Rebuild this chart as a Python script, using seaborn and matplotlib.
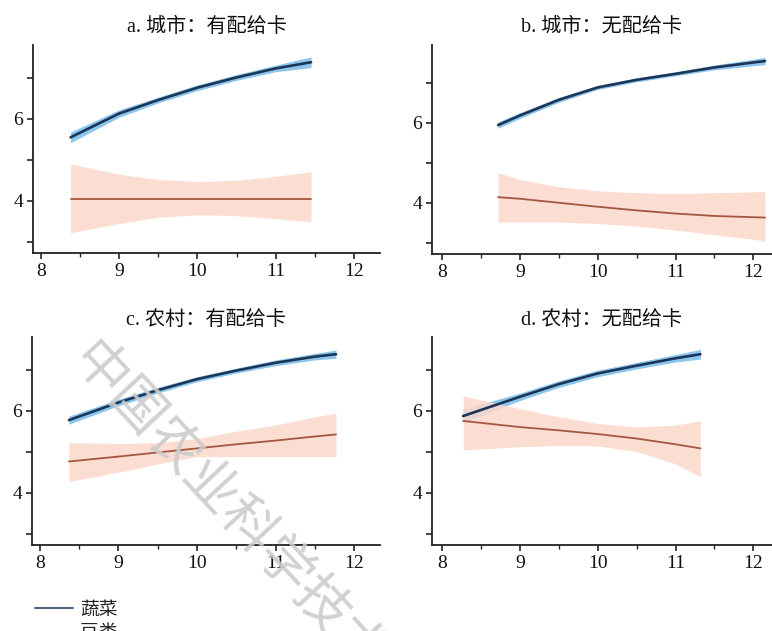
import numpy as np
import pandas as pd
import matplotlib
matplotlib.use("Agg")
import matplotlib.pyplot as plt
import seaborn as sns
from matplotlib.ticker import MultipleLocator
from matplotlib.lines import Line2D

sns.set_theme(style="ticks")
plt.rcParams['font.family'] = ['Liberation Serif', 'Noto Sans CJK SC', 'DejaVu Sans']

titles = ["a. 城市：有配给卡", "b. 城市：无配给卡", "c. 农村：有配给卡", "d. 农村：无配给卡"]
series_names = ["蔬菜", "豆类"]

# panel a
a_veg_x = [8.38, 9.0, 9.5, 10.0, 10.5, 11.0, 11.45]
a_veg_y = [5.55, 6.13, 6.46, 6.76, 7.01, 7.23, 7.38]
a_veg_lo = [5.42, 6.04, 6.39, 6.69, 6.94, 7.15, 7.25]
a_veg_hi = [5.68, 6.22, 6.53, 6.83, 7.08, 7.31, 7.51]
a_leg_x = [8.38, 9.0, 9.5, 10.0, 10.5, 11.0, 11.45]
a_leg_y = [4.05, 4.05, 4.05, 4.05, 4.05, 4.05, 4.05]
a_leg_lo = [3.22, 3.45, 3.60, 3.66, 3.64, 3.57, 3.49]
a_leg_hi = [4.90, 4.65, 4.52, 4.47, 4.50, 4.60, 4.71]

# panel b
b_veg_x = [8.72, 9.0, 9.5, 10.0, 10.5, 11.0, 11.5, 12.15]
b_veg_y = [5.94, 6.18, 6.57, 6.88, 7.07, 7.22, 7.38, 7.54]
b_veg_lo = [5.86, 6.11, 6.51, 6.83, 7.02, 7.17, 7.32, 7.45]
b_veg_hi = [6.02, 6.25, 6.63, 6.93, 7.12, 7.27, 7.44, 7.63]
b_leg_x = [8.72, 9.0, 9.5, 10.0, 10.5, 11.0, 11.5, 12.15]
b_leg_y = [4.14, 4.10, 4.00, 3.90, 3.81, 3.73, 3.67, 3.63]
b_leg_lo = [3.52, 3.52, 3.52, 3.48, 3.42, 3.32, 3.20, 3.05]
b_leg_hi = [4.75, 4.58, 4.40, 4.30, 4.25, 4.23, 4.25, 4.28]

# panel c
c_veg_x = [8.37, 9.0, 9.5, 10.0, 10.5, 11.0, 11.5, 11.77]
c_veg_y = [5.77, 6.20, 6.50, 6.77, 6.98, 7.17, 7.32, 7.38]
c_veg_lo = [5.67, 6.12, 6.43, 6.71, 6.92, 7.10, 7.24, 7.28]
c_veg_hi = [5.87, 6.28, 6.57, 6.83, 7.04, 7.24, 7.40, 7.48]
c_leg_x = [8.37, 9.0, 9.5, 10.0, 10.5, 11.0, 11.5, 11.77]
c_leg_y = [4.76, 4.88, 4.98, 5.08, 5.18, 5.27, 5.37, 5.42]
c_leg_lo = [4.27, 4.50, 4.70, 4.88, 4.88, 4.88, 4.88, 4.88]
c_leg_hi = [5.22, 5.20, 5.22, 5.32, 5.50, 5.65, 5.85, 5.94]

# panel d
d_veg_x = [8.27, 9.0, 9.5, 10.0, 10.5, 11.0, 11.32]
d_veg_y = [5.87, 6.34, 6.65, 6.91, 7.10, 7.28, 7.38]
d_veg_lo = [5.70, 6.25, 6.57, 6.83, 7.02, 7.19, 7.26]
d_veg_hi = [6.04, 6.43, 6.73, 6.99, 7.18, 7.37, 7.50]
d_leg_x = [8.27, 9.0, 9.5, 10.0, 10.5, 11.0, 11.32]
d_leg_y = [5.75, 5.60, 5.52, 5.43, 5.32, 5.18, 5.08]
d_leg_lo = [5.04, 5.12, 5.15, 5.14, 5.00, 4.70, 4.39]
d_leg_hi = [6.36, 6.05, 5.85, 5.69, 5.60, 5.65, 5.75]

panels = [
    (a_veg_x, a_veg_y, a_veg_lo, a_veg_hi, a_leg_x, a_leg_y, a_leg_lo, a_leg_hi),
    (b_veg_x, b_veg_y, b_veg_lo, b_veg_hi, b_leg_x, b_leg_y, b_leg_lo, b_leg_hi),
    (c_veg_x, c_veg_y, c_veg_lo, c_veg_hi, c_leg_x, c_leg_y, c_leg_lo, c_leg_hi),
    (d_veg_x, d_veg_y, d_veg_lo, d_veg_hi, d_leg_x, d_leg_y, d_leg_lo, d_leg_hi),
]

veg_line = "#1b3556"
veg_band = "#86c2ec"
leg_line = "#a4573f"
leg_band = "#fcd8cb"

W, H = 772, 631
fig = plt.figure(figsize=(W / 100, H / 100), dpi=100)

# (left, top, right, bottom) in pixels
boxes = [(33, 45, 380, 253), (432, 45, 772, 254), (32, 337, 380, 545), (432, 337, 772, 545)]
xlims = [(7.9, 12.33), (7.87, 12.24), (7.9, 12.33), (7.87, 12.24)]
ylims = [(2.73, 7.80), (2.72, 7.94), (2.72, 7.80), (2.72, 7.80)]

for i, (l, t, r, b) in enumerate(boxes):
    ax = fig.add_axes([l / W, 1 - b / H, (r - l) / W, (b - t) / H])
    vx, vy, vlo, vhi, lx, ly, llo, lhi = panels[i]
    ax.fill_between(vx, vlo, vhi, color=veg_band, alpha=0.95, lw=0, zorder=1)
    ax.fill_between(lx, llo, lhi, color=leg_band, alpha=0.85, lw=0, zorder=1)
    df = pd.concat([
        pd.DataFrame({"x": vx, "y": vy, "s": series_names[0]}),
        pd.DataFrame({"x": lx, "y": ly, "s": series_names[1]}),
    ])
    sns.lineplot(data=df, x="x", y="y", hue="s", palette=[veg_line, leg_line],
                 ax=ax, legend=False, zorder=3, sort=False, estimator=None)
    for line, lw in zip(ax.lines, [1.9, 1.3]):
        line.set_linewidth(lw)
    ax.set_xlim(*xlims[i])
    ax.set_ylim(*ylims[i])
    ax.set_xlabel("")
    ax.set_ylabel("")
    ax.set_xticks([8, 9, 10, 11, 12])
    ax.xaxis.set_minor_locator(MultipleLocator(0.5))
    ax.set_yticks([3, 4, 5, 6, 7])
    ax.set_yticklabels(["", "4", "", "6", ""])
    ax.tick_params(axis="both", which="major", direction="out", length=4, width=1.1,
                   labelsize=14, colors="#111111", pad=3)
    ax.tick_params(axis="x", which="minor", direction="out", length=3, width=1.0)
    for lab in ax.get_xticklabels() + ax.get_yticklabels():
        lab.set_family(['Liberation Serif'])
    for s in ["top", "right"]:
        ax.spines[s].set_visible(False)
    for s in ["left", "bottom"]:
        ax.spines[s].set_linewidth(1.3)
        ax.spines[s].set_color("#222222")
    ax.set_facecolor("white")
    ax.set_title(titles[i], fontsize=14.5, pad=9, color="#111111",
                 family=['Liberation Serif', 'Noto Sans CJK SC'])

# legend
handles = [Line2D([0], [0], color=veg_line, lw=1.4, alpha=0.8),
           Line2D([0], [0], color=leg_line, lw=1.4, alpha=0.8)]
fig.legend(handles, series_names, loc="upper left", bbox_to_anchor=(26 / W, 1 - 589 / H),
           frameon=False, handlelength=2.0, handletextpad=0.4, labelspacing=0.15,
           borderpad=0, prop={"family": ['Noto Sans CJK SC'], "size": 13.5},
           labelcolor="#222222")

# watermark
fig.text(80 / W, 1 - 352 / H, "中国农业科学技术", rotation=-47, rotation_mode="anchor",
         ha="left", va="center", fontsize=39, color="#cccccc", alpha=0.9,
         family=['Noto Sans CJK SC'], zorder=10)

fig.savefig("out.png", dpi=100, facecolor="white")
